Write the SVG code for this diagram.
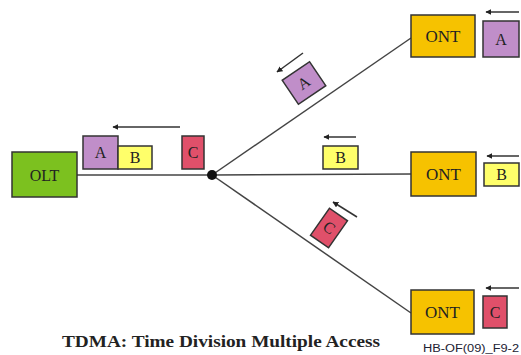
<svg xmlns="http://www.w3.org/2000/svg" width="521" height="355" viewBox="0 0 521 355">
<defs>
<marker id="ah" viewBox="0 0 10 10" refX="9" refY="5" markerWidth="6" markerHeight="6" orient="auto-start-reverse" markerUnits="userSpaceOnUse">
<path d="M0,0 L10,5 L0,10 z" fill="#222"/>
</marker>
<style>
.box{stroke:#333;stroke-width:1.5}
.olt{fill:#7cc11f}
.ont{fill:#f6c200}
.a{fill:#c08ec9}
.b{fill:#ffff6a}
.c{fill:#e0506a}
.lbl{font-family:"Liberation Serif",serif;text-anchor:middle;fill:#222}
.arr{stroke:#333;stroke-width:1.5;fill:none;marker-end:url(#ah)}
.ln{stroke:#444;stroke-width:1.5;fill:none}
</style>
</defs>
<rect width="521" height="355" fill="#fff"/>
<g id="connectors">
<line class="ln" x1="77" y1="175" x2="212" y2="175"/>
<line class="ln" x1="212" y1="175" x2="411" y2="38"/>
<line class="ln" x1="212" y1="175" x2="411" y2="174"/>
<line class="ln" x1="212" y1="175" x2="411" y2="313"/>
<circle cx="212" cy="175" r="5" fill="#111"/>
<line class="arr" x1="180" y1="127" x2="113" y2="127"/>
<line class="arr" x1="356" y1="137" x2="324" y2="137"/>
<line class="arr" x1="303" y1="53" x2="277" y2="72"/>
<line class="arr" x1="357" y1="217" x2="333" y2="202"/>
<line class="arr" x1="519" y1="12" x2="486" y2="12"/>
<line class="arr" x1="519" y1="156" x2="487" y2="156"/>
<line class="arr" x1="519" y1="288" x2="486" y2="288"/>
</g>
<g id="olt">
<rect class="box olt" x="12" y="152" width="65" height="45"/>
<text class="lbl" x="44.5" y="181" font-size="16">OLT</text>
</g>
<g id="ont1">
<rect class="box ont" x="411" y="15" width="64" height="42"/>
<text class="lbl" x="443" y="42" font-size="17">ONT</text>
</g>
<g id="ont2">
<rect class="box ont" x="411" y="152" width="65" height="44"/>
<text class="lbl" x="443.5" y="180" font-size="17">ONT</text>
</g>
<g id="ont3">
<rect class="box ont" x="411" y="290" width="63" height="44"/>
<text class="lbl" x="442.5" y="318" font-size="17">ONT</text>
</g>
<g id="frames-olt">
<rect class="box a" x="83" y="136" width="35" height="33"/>
<text class="lbl" x="100.5" y="158" font-size="16">A</text>
<rect class="box b" x="118" y="146" width="34" height="23"/>
<text class="lbl" x="135" y="163" font-size="16">B</text>
<rect class="box c" x="182" y="136" width="22" height="33"/>
<text class="lbl" x="193" y="158" font-size="16">C</text>
</g>
<g id="frame-a-tilted" transform="translate(304,83) rotate(-34)">
<rect class="box a" x="-16.5" y="-14.5" width="33" height="29"/>
<text class="lbl" x="0" y="5" font-size="16">A</text>
</g>
<g id="frame-b-mid">
<rect class="box b" x="323" y="146" width="35" height="23"/>
<text class="lbl" x="340.5" y="163" font-size="16">B</text>
</g>
<g id="frame-c-tilted" transform="translate(329,228) rotate(35)">
<rect class="box c" x="-11" y="-16.5" width="22" height="33"/>
<text class="lbl" x="0" y="5" font-size="16">C</text>
</g>
<g id="frames-ont">
<rect class="box a" x="483" y="21" width="36" height="36"/>
<text class="lbl" x="501" y="45" font-size="16">A</text>
<rect class="box b" x="484" y="163" width="35" height="23"/>
<text class="lbl" x="501.5" y="180" font-size="16">B</text>
<rect class="box c" x="483" y="296" width="24" height="32"/>
<text class="lbl" x="495" y="318" font-size="16">C</text>
</g>
<text x="62" y="347" font-family="Liberation Serif,serif" font-weight="bold" font-size="16" fill="#222" textLength="318" lengthAdjust="spacingAndGlyphs">TDMA: Time Division Multiple Access</text>
<text x="423" y="352" font-family="Liberation Sans,sans-serif" font-size="10" fill="#223" textLength="96" lengthAdjust="spacingAndGlyphs">HB-OF(09)_F9-2</text>
</svg>
